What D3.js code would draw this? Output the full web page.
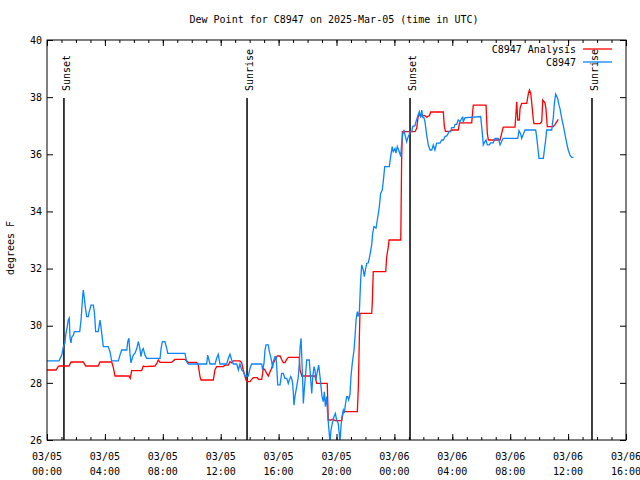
<!DOCTYPE html>
<html>
<head>
<meta charset="utf-8">
<script src="https://cdn.jsdelivr.net/npm/d3@7"></script>
<style>
html,body{margin:0;padding:0;background:#fff;}
svg{display:block;}
text{font-family:"DejaVu Sans Mono","Liberation Mono",monospace;font-size:10px;fill:#000;}
</style>
</head>
<body>
<svg id="chart" width="640" height="480"></svg>
<script>
// ---------- DATA (hours since 2025-03-05 00:00 UTC) ----------
const title = "Dew Point for C8947 on 2025-Mar-05 (time in UTC)";
const yLabel = "degrees F";
const seriesNames = ["C8947 Analysis", "C8947"];

const analysisHours = [0,0.62,0.74,0.83,1.52,1.66,2.51,2.67,3.54,3.66,4.47,4.58,4.70,5.66,5.75,5.85,6.54,6.65,6.77,7.46,7.58,7.69,7.81,8.61,8.84,9.53,9.76,10.34,10.45,10.57,10.64,11.49,11.61,11.72,12.18,12.30,12.53,12.64,12.76,12.87,13.33,13.45,13.56,13.75,13.84,14.02,14.14,14.25,14.53,14.60,14.83,14.90,14.94,15.06,15.18,15.29,15.41,15.52,15.63,15.75,15.91,16.10,16.21,16.32,16.44,16.56,16.67,17.43,17.48,17.60,18.51,18.63,19.36,19.43,19.60,19.74,19.90,20.36,20.43,20.47,21.44,21.51,21.58,21.62,22.43,22.47,22.54,23.40,23.47,23.58,23.63,24.44,24.46,24.50,24.55,25.42,25.54,25.65,26.11,26.23,26.41,26.51,27.38,27.45,27.53,27.84,27.96,28.41,28.50,29.34,29.45,30.33,30.42,30.49,31.30,31.41,31.52,32.33,32.40,32.45,32.52,32.63,32.68,32.79,33.14,33.26,33.33,33.42,33.49,33.60,33.64,34.06,34.18,34.25,34.40,34.47,34.56,34.98,35.10,35.32];
const analysisValues = [28.45,28.45,28.54,28.59,28.59,28.73,28.73,28.59,28.59,28.73,28.73,28.54,28.24,28.24,28.16,28.43,28.43,28.59,28.57,28.59,28.68,28.8,28.72,28.72,28.82,28.82,28.72,28.72,28.62,28.22,28.1,28.1,28.47,28.57,28.57,28.62,28.62,28.74,28.7,28.77,28.77,28.7,28.45,28.1,28.04,28.04,28.12,28.18,28.18,28.12,28.12,28.33,28.51,28.45,28.33,28.24,28.39,28.51,28.68,28.8,28.94,28.94,28.82,28.71,28.71,28.82,28.89,28.89,28.45,28.24,28.24,27.98,27.98,26.7,26.7,26.73,26.68,26.68,26.88,26.99,26.99,27.87,29.62,30.43,30.43,30.78,31.89,31.89,32.42,32.77,33.0,33.0,33.93,35.8,36.79,36.79,36.91,37.35,37.35,37.3,37.35,37.48,37.48,36.97,36.8,36.8,36.85,36.85,37.1,37.1,37.72,37.72,36.73,36.5,36.5,36.73,36.95,36.95,37.43,37.84,37.2,37.2,37.61,37.78,37.78,38.13,38.25,38.13,37.78,37.2,37.07,37.07,37.15,37.9,37.8,37.6,36.97,36.97,37.05,37.22];

const stationHours = [0,0.83,1.02,1.13,1.24,1.29,1.40,1.47,1.54,1.59,1.66,1.71,1.82,1.89,2.26,2.35,2.40,2.47,2.51,2.58,2.63,2.74,2.85,2.92,3.04,3.20,3.27,3.32,3.36,3.54,3.61,3.66,3.73,3.78,3.89,4.23,4.35,4.47,4.93,5.04,5.16,5.51,5.58,5.66,5.73,5.80,5.89,5.96,6.08,6.20,6.31,6.42,6.49,6.58,6.65,6.77,6.89,7.81,7.88,7.97,8.15,8.27,8.34,9.53,9.65,9.76,11.03,11.10,11.19,11.26,11.61,11.72,11.83,11.95,12.41,12.53,12.64,12.76,12.87,12.99,13.11,13.22,13.33,13.45,13.56,13.68,13.91,14.02,14.14,14.83,14.90,14.99,15.06,15.13,15.29,15.36,15.45,15.52,15.59,15.63,15.75,15.82,15.87,15.94,16.10,16.21,16.32,16.44,16.56,16.67,16.74,16.84,16.90,16.97,17.02,17.06,17.13,17.25,17.36,17.43,17.48,17.55,17.60,17.66,17.71,17.78,17.87,17.94,18.12,18.17,18.24,18.29,18.36,18.45,18.51,18.58,18.63,18.70,18.77,18.86,18.93,19.00,19.09,19.16,19.23,19.32,19.39,19.46,19.55,19.62,19.71,19.83,19.92,20.01,20.12,20.19,20.24,20.31,20.38,20.47,20.54,20.61,20.70,20.77,20.84,20.93,21.00,21.09,21.21,21.28,21.35,21.44,21.51,21.58,21.67,21.74,21.85,21.92,22.02,22.09,22.20,22.31,22.43,22.50,22.59,22.73,22.82,22.96,23.05,23.16,23.23,23.33,23.65,23.74,23.85,23.92,24.04,24.11,24.20,24.34,24.44,24.50,24.57,24.66,24.73,24.85,24.94,25.03,25.08,25.20,25.26,25.42,25.49,25.58,25.72,25.82,25.89,25.96,26.04,26.11,26.23,26.34,26.46,26.58,26.69,26.80,26.92,27.15,27.27,27.38,27.50,27.63,27.77,27.89,27.96,28.12,28.19,28.30,28.41,28.53,28.65,28.72,28.76,28.88,28.99,29.96,30.03,30.10,30.14,30.26,30.33,30.42,30.56,30.65,30.83,30.95,31.18,31.30,31.41,31.52,32.52,32.61,32.73,32.79,32.91,33.02,33.76,33.83,33.94,33.99,34.29,34.36,34.45,34.52,34.87,34.91,34.98,35.05,35.14,35.28,35.37,35.44,35.56,35.67,35.79,35.90,36.01,36.13,36.25,36.36];
const stationValues = [28.77,28.77,28.97,29.27,29.4,29.67,29.97,30.2,30.27,29.57,29.4,29.6,29.67,29.79,29.79,30.2,30.55,31.07,31.25,30.97,30.72,30.32,30.32,30.49,30.72,30.72,30.49,30.14,29.79,29.79,30.02,30.2,29.97,29.73,29.27,29.27,29.09,28.77,28.77,28.97,29.15,29.15,29.44,29.56,29.04,28.7,28.86,28.97,29.04,29.2,29.44,29.2,28.92,29.15,29.2,28.97,28.86,28.86,29.21,29.44,29.44,29.21,29.03,29.03,28.74,28.66,28.66,28.97,28.8,28.66,28.66,28.86,29.0,28.66,28.66,28.86,29.0,28.8,28.66,28.66,28.66,28.45,28.66,28.45,28.4,28.24,28.24,28.5,28.66,28.66,28.45,28.68,29.15,29.33,29.33,29.09,28.92,28.74,28.51,28.74,28.92,28.92,28.57,27.93,27.93,28.33,28.33,28.16,28.16,27.98,28.1,28.22,28.16,27.98,27.63,27.22,27.52,27.87,28.22,28.68,29.21,29.56,28.92,28.1,27.28,27.81,28.33,28.8,28.8,28.45,27.98,27.63,28.22,28.57,28.45,28.1,28.27,28.45,28.62,28.22,27.87,27.52,27.34,27.69,27.17,27.52,26.88,26.47,25.9,26.35,26.58,26.82,26.93,26.7,26.58,26.23,25.9,26.47,26.82,27.05,26.95,27.22,27.52,27.52,27.4,27.6,28.22,28.68,29.15,29.62,30.2,30.49,30.33,30.49,31.6,32.13,31.95,31.72,32.02,32.18,32.2,32.48,32.83,33.23,33.47,33.42,33.7,34.17,34.63,34.75,35.04,35.57,35.57,35.92,36.27,36.09,36.2,36.04,36.27,36.09,35.92,36.39,36.68,36.85,36.68,36.44,36.6,36.7,36.79,36.79,36.97,37.0,37.14,37.28,37.49,37.28,37.55,37.28,37.28,37.14,36.68,36.33,36.15,36.15,36.33,36.15,36.39,36.39,36.5,36.5,36.62,36.65,36.79,36.79,36.93,36.93,37.05,37.05,37.2,37.14,37.26,37.3,37.14,37.28,37.28,37.32,36.97,36.59,36.33,36.45,36.5,36.33,36.33,36.4,36.4,36.56,36.56,36.33,36.45,36.56,36.56,36.83,36.7,36.56,36.7,36.85,36.85,36.6,36.09,35.86,35.86,36.15,36.5,36.85,36.85,37.03,37.3,37.78,38.11,37.95,37.72,37.6,37.26,37.0,36.68,36.4,36.15,35.97,35.89,35.89];

const sunLabels = ["Sunset", "Sunrise", "Sunset", "Sunrise"];
const sunHours = [1.17, 13.82, 25.08, 37.65];

const yTicks = [26, 28, 30, 32, 34, 36, 38, 40];
const xDomainHours = [0, 40];

// ---------- CHART ----------
const base = Date.UTC(2025, 2, 5, 0, 0);
const toDate = h => new Date(base + h * 3600000);

const L = 47, R = 626, T = 40, B = 440;
const svg = d3.select("#chart");
svg.append("rect").attr("width", 640).attr("height", 480).attr("fill", "#fff");

const x = d3.scaleUtc().domain(xDomainHours.map(toDate)).range([L, R]);
const y = d3.scaleLinear().domain([26, 40]).range([B, T]);

svg.append("defs").append("clipPath").attr("id", "clip")
  .append("rect").attr("x", L).attr("y", T).attr("width", R - L).attr("height", B - T);

// title
svg.append("text").attr("x", 334).attr("y", 23).attr("text-anchor", "middle").text(title);

// y label
svg.append("text").attr("transform", "translate(14,248) rotate(-90)")
  .attr("text-anchor", "middle").text(yLabel);

// axes
const major = d3.utcHour.every(4), minor = d3.utcHour.every(1);
function clean(g){ g.select(".domain").remove(); g.selectAll("line").attr("stroke","#000"); }

svg.append("g").attr("transform", `translate(0,${B})`)
  .call(d3.axisBottom(x).ticks(minor).tickSize(-3).tickFormat("")).call(clean);
svg.append("g").attr("transform", `translate(0,${B})`)
  .call(d3.axisBottom(x).ticks(major).tickSize(-6).tickFormat("")).call(clean);
svg.append("g").attr("transform", `translate(0,${T})`)
  .call(d3.axisTop(x).ticks(minor).tickSize(-3).tickFormat("")).call(clean);
svg.append("g").attr("transform", `translate(0,${T})`)
  .call(d3.axisTop(x).ticks(major).tickSize(-6).tickFormat("")).call(clean);

const yl = svg.append("g").attr("transform", `translate(${L},0)`)
  .call(d3.axisLeft(y).tickValues(yTicks).tickSize(-6).tickPadding(5).tickFormat(d3.format("d")))
  .call(clean);
yl.selectAll("text").attr("font-family", null).attr("font-size", null).attr("fill", "#000");
svg.append("g").attr("transform", `translate(${R},0)`)
  .call(d3.axisRight(y).tickValues(yTicks).tickSize(-6).tickFormat("")).call(clean);

// x labels (two lines)
const fmtD = d3.utcFormat("%m/%d"), fmtT = d3.utcFormat("%H:%M");
const xl = svg.append("g");
x.ticks(major).forEach(d => {
  const t = xl.append("text").attr("text-anchor", "middle");
  t.append("tspan").attr("x", x(d)).attr("y", 460).text(fmtD(d));
  t.append("tspan").attr("x", x(d)).attr("y", 475).text(fmtT(d));
});

// sun lines
sunHours.forEach((h, i) => {
  const sx = x(toDate(h));
  svg.append("line").attr("x1", sx).attr("x2", sx).attr("y1", 98).attr("y2", B)
    .attr("stroke", "#000").attr("stroke-width", 1.5);
  svg.append("text").attr("transform", `translate(${sx + 6},91) rotate(-90)`)
    .attr("text-anchor", "start").text(sunLabels[i]);
});

// series
const line = d3.line().x(d => x(toDate(d[0]))).y(d => y(d[1]));
const redData = analysisHours.map((h, i) => [h, analysisValues[i]]);
const blueData = stationHours.map((h, i) => [h, stationValues[i]]);
const gp = svg.append("g").attr("clip-path", "url(#clip)");
gp.append("path").datum(redData).attr("d", line).attr("fill", "none")
  .attr("stroke", "#ff0000").attr("stroke-width", 1.3);
gp.append("path").datum(blueData).attr("d", line).attr("fill", "none")
  .attr("stroke", "#0a84ff").attr("stroke-width", 1.3);

// frame
svg.append("rect").attr("x", L).attr("y", T).attr("width", R - L).attr("height", B - T)
  .attr("fill", "none").attr("stroke", "#000").attr("stroke-width", 1);

// legend
const colors = ["#ff0000", "#0a84ff"];
seriesNames.forEach((n, i) => {
  const ly = 49 + i * 13;
  svg.append("text").attr("x", 576).attr("y", ly + 4).attr("text-anchor", "end").text(n);
  svg.append("line").attr("x1", 583).attr("x2", 612).attr("y1", ly).attr("y2", ly)
    .attr("stroke", colors[i]).attr("stroke-width", 1.3);
});
</script>
</body>
</html>
